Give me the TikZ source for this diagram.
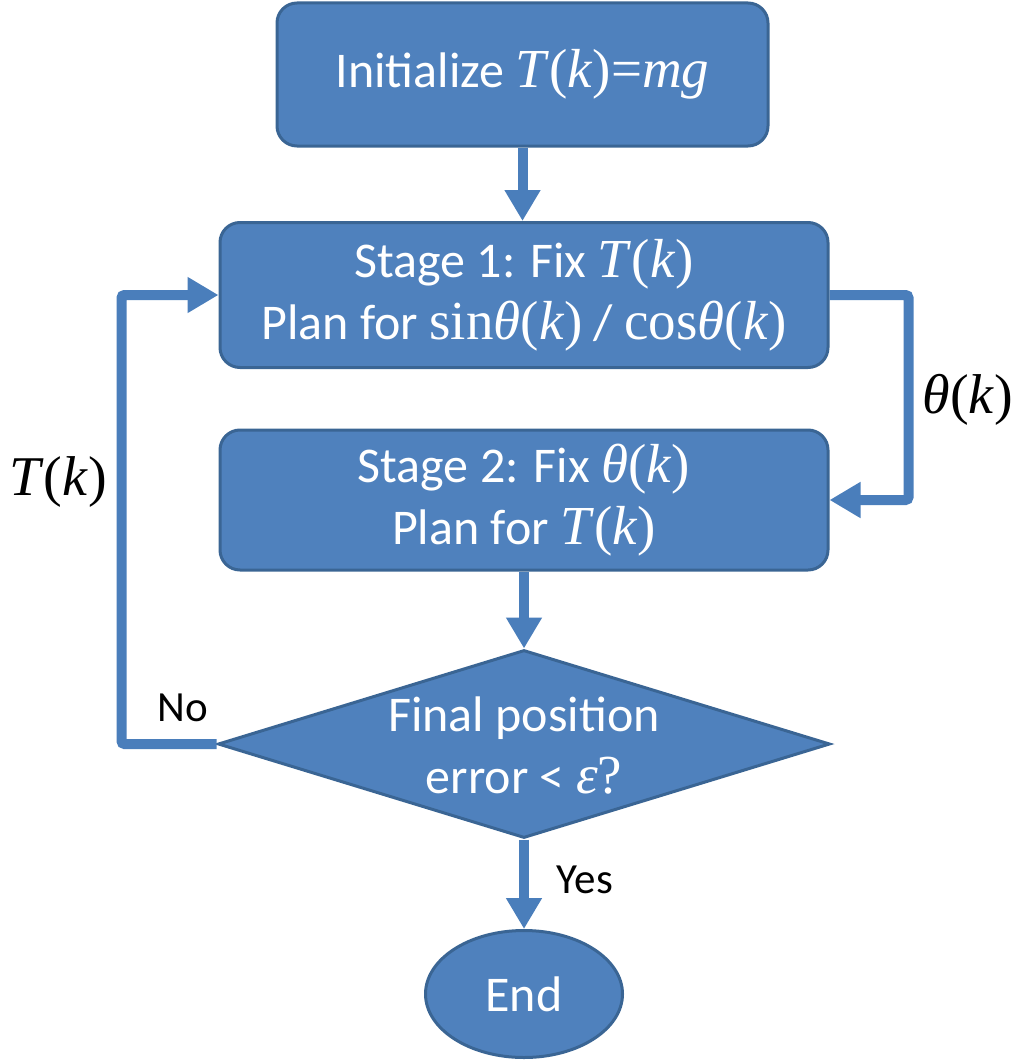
\documentclass[tikz,border=0pt]{standalone}
\usepackage{fontspec}
\setmainfont{Carlito}
\newfontfamily\tms[Scale=1.1]{Liberation Serif}
\usetikzlibrary{arrows.meta,shapes.geometric}
\definecolor{boxfill}{HTML}{4F81BD}
\definecolor{boxline}{HTML}{3A6594}
\definecolor{arrcol}{HTML}{4A7EBB}
\newcommand\Tk{{\tms\textit{T}(\textit{k})}}
\newcommand\thk{{\tms\textit{θ}(\textit{k})}}
\begin{document}
\begin{tikzpicture}[x=1pt,y=-1pt,
  box/.style={draw=boxline,fill=boxfill,line width=3pt,rounded corners=20pt,
    text=white,align=center,inner sep=0pt,font=\fontsize{50}{62}\selectfont},
  arr/.style={draw=arrcol,line width=10pt,-{Triangle[width=34pt,length=31pt]}},
  lbl/.style={text=black,inner sep=0pt,font=\fontsize{43}{50}\selectfont},
  mlbl/.style={text=black,inner sep=0pt,font=\fontsize{51}{60}\selectfont}]
\useasboundingbox (0,0) rectangle (1021,1062);
\node[box,minimum width=491pt,minimum height=143pt] (init) at (522.5,74.5) {Initialize {\tms\textit{T}(\textit{k})=\textit{mg}}};
\node[box,minimum width=608pt,minimum height=145pt] (s1) at (524,295)
  {Stage 1: Fix \Tk\\Plan for {\tms sin\textit{θ}(\textit{k})} / {\tms cos\textit{θ}(\textit{k})}};
\node[box,minimum width=608pt,minimum height=140pt] (s2) at (524,500)
  {Stage 2: Fix \thk\\Plan for \Tk};
\node[draw=boxline,fill=boxfill,line width=3pt,diamond,aspect=3.25,inner sep=0pt,
  minimum width=612pt,minimum height=188pt] (dec) at (524,744) {};
\node[text=white,align=center,inner sep=0pt,font=\fontsize{50}{62}\selectfont] (dect) at (524,746)
  {Final position\\error < {\tms\textit{ε}?}};
\node[draw=boxline,fill=boxfill,line width=3pt,ellipse,inner sep=0pt,
  minimum width=197pt,minimum height=127pt,text=white,font=\fontsize{50}{58}\selectfont] (end) at (524,994) {End};
\draw[arr] (init.south) -- (s1.north -| init.south);
\draw[arr] (s2.south) -- (dec.north);
\draw[arr] (dec.south) -- (end.north);
\draw[arr,rounded corners=3pt] (s1.east) -- ++(79,0) |- (s2.east);
\draw[arr,rounded corners=3pt] (dec.west) -- ++(-95,0) |- (s1.west);
\node[mlbl] (lth) at (968,400) {\thk};
\node[mlbl] (lT) at (58,482) {\Tk};
\node[lbl] (lno) at (183,708) {No};
\node[lbl] (lyes) at (585,880) {Yes};
\end{tikzpicture}
\end{document}
